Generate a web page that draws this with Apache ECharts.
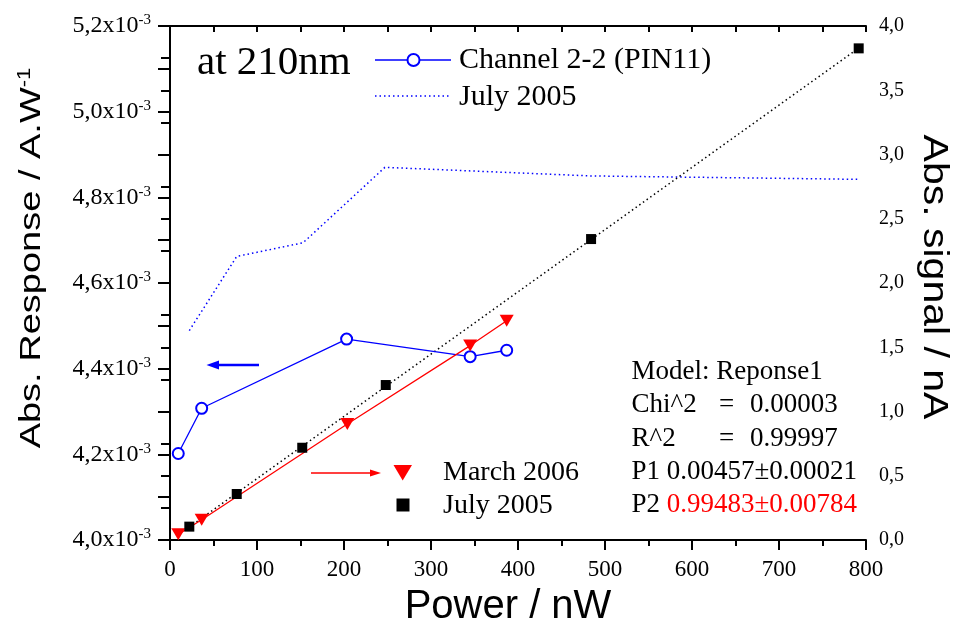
<!DOCTYPE html>
<html><head><meta charset="utf-8">
<script src="https://cdn.jsdelivr.net/npm/echarts@6/dist/echarts.min.js"></script>
<style>html,body{margin:0;padding:0;background:#fff}#c{width:956px;height:624px}</style>
</head><body><div id="c"></div>
<script>
// ---- data ----
const xTicks = [0, 100, 200, 300, 400, 500, 600, 700, 800];
const channelX = [9.5, 36.4, 203, 345, 387];
const channelY = [4.202e-3, 4.3075e-3, 4.469e-3, 4.428e-3, 4.443e-3];
const julyRespX = [22.2, 76.7, 153, 247, 483, 791];
const julyRespY = [4.489e-3, 4.662e-3, 4.694e-3, 4.870e-3, 4.850e-3, 4.842e-3];
const marchX = [9.5, 36.4, 203.8, 345, 387];
const marchY = [0.044, 0.158, 0.903, 1.513, 1.706];
const julySigX = [22.2, 76.7, 152, 248, 484, 791.6];
const julySigY = [0.104, 0.358, 0.718, 1.206, 2.342, 3.826];
const fitX = [22, 792];
const fitY = [0.10, 3.83];
const statsLines = ['Model: Reponse1', 'Chi^2', 'R^2', 'P1 0.00457\u00b10.00021', 'P2 '];
const statsValues = ['0.00003', '0.99997'];
const p2Value = '0.99483\u00b10.00784';

const zip = (a, b) => a.map((v, i) => [v, b[i]]);
const SERIF = 'Liberation Serif';
const SANS = 'Liberation Sans';
const BLUE = '#0000ff', RED = '#ff0000';

const chart = echarts.init(document.getElementById('c'), null, {renderer: 'canvas'});

const tx = (x, y, text, size, extra) => ({
  type: 'text', x: x, y: y, z: 100,
  style: Object.assign({text: text, font: size + 'px "' + SERIF + '"', fill: '#000',
    textAlign: 'left', textVerticalAlign: 'middle'}, extra || {})
});

const option = {
  animation: false,
  backgroundColor: '#fff',
  grid: {left: 170, right: 90, top: 26, bottom: 84, containLabel: false},
  xAxis: [{
    type: 'value', position: 'bottom', min: 0, max: 800, interval: 100,
    axisLine: {show: true, lineStyle: {color: '#000', width: 2}},
    axisTick: {show: true, inside: false, length: 10, lineStyle: {color: '#000', width: 2}},
    minorTick: {show: true, splitNumber: 2, length: 6, lineStyle: {color: '#000', width: 2}},
    splitLine: {show: false},
    axisLabel: {fontFamily: SERIF, fontSize: 23, color: '#000', margin: 18,
      formatter: v => xTicks.indexOf(v) >= 0 ? String(v) : ''}
  }, {
    type: 'value', position: 'top', min: 0, max: 800, interval: 100,
    axisLine: {show: true, lineStyle: {color: '#000', width: 2}},
    axisTick: {show: true, inside: true, length: 6, lineStyle: {color: '#000', width: 2}},
    minorTick: {show: true, splitNumber: 2, length: 6, lineStyle: {color: '#000', width: 2}},
    splitLine: {show: false}, axisLabel: {show: false}
  }],
  yAxis: [{
    type: 'value', position: 'left', min: 0.0040, max: 0.0052, interval: 0.0002,
    axisLine: {show: true, lineStyle: {color: '#000', width: 2}},
    axisTick: {show: true, inside: false, length: 12, lineStyle: {color: '#000', width: 2}},
    minorTick: {show: true, splitNumber: 2, length: 12, lineStyle: {color: '#000', width: 2}},
    splitLine: {show: false},
    axisLabel: {margin: 19, color: '#000',
      formatter: v => '{a|' + (v * 1000).toFixed(1).replace('.', ',') + 'x10}{b|-3}',
      rich: {
        a: {fontFamily: SERIF, fontSize: 24, color: '#000'},
        b: {fontFamily: SERIF, fontSize: 15, color: '#000', verticalAlign: 'bottom', padding: [0, 0, 11, 0]}
      }}
  }, {
    type: 'value', position: 'right', min: 0, max: 4, interval: 0.5,
    axisLine: {show: true, lineStyle: {color: '#000', width: 2}},
    axisTick: {show: true, inside: true, length: 9, lineStyle: {color: '#000', width: 2}},
    minorTick: {show: true, splitNumber: 2, length: 9, lineStyle: {color: '#000', width: 2}},
    splitLine: {show: false},
    axisLabel: {fontFamily: SERIF, fontSize: 20, color: '#000', margin: 13,
      formatter: v => v.toFixed(1).replace('.', ',')}
  }],
  series: [{
    name: 'Channel 2-2 (PIN11)', type: 'line', yAxisIndex: 0,
    data: zip(channelX, channelY),
    symbol: 'circle', symbolSize: 11,
    lineStyle: {color: BLUE, width: 1.3},
    itemStyle: {color: '#fff', borderColor: BLUE, borderWidth: 2}, z: 5
  }, {
    name: 'July 2005 response', type: 'line', yAxisIndex: 0,
    data: zip(julyRespX, julyRespY), symbol: 'none',
    lineStyle: {color: BLUE, width: 1.5, type: [1.5, 3]}
  }, {
    name: 'fit', type: 'line', yAxisIndex: 1,
    data: zip(fitX, fitY), symbol: 'none',
    lineStyle: {color: '#000', width: 1.5, type: [1.5, 3]}
  }, {
    name: 'March 2006', type: 'line', yAxisIndex: 1,
    data: zip(marchX, marchY),
    symbol: 'triangle', symbolRotate: 180, symbolSize: [14, 12],
    lineStyle: {color: RED, width: 1.3},
    itemStyle: {color: RED}, z: 6
  }, {
    name: 'July 2005', type: 'scatter', yAxisIndex: 1,
    data: zip(julySigX, julySigY),
    symbol: 'rect', symbolSize: 10,
    itemStyle: {color: '#000', opacity: 1}, z: 7
  }],
  graphic: [
    tx(197, 63, 'at 210nm', 41),
    // legend 1
    {type: 'line', shape: {x1: 375, y1: 60, x2: 451, y2: 60}, style: {stroke: BLUE, lineWidth: 1.3}, z: 100},
    {type: 'circle', shape: {cx: 413.5, cy: 60, r: 6}, style: {fill: '#fff', stroke: BLUE, lineWidth: 2}, z: 101},
    tx(459, 60, 'Channel 2-2 (PIN11)', 30),
    {type: 'line', shape: {x1: 375, y1: 96, x2: 451, y2: 96}, style: {stroke: BLUE, lineWidth: 1.5, lineDash: [1.5, 3]}, z: 100},
    tx(459, 97, 'July 2005', 30),
    // blue arrow (points to left axis)
    {type: 'line', shape: {x1: 259, y1: 365, x2: 215, y2: 365}, style: {stroke: BLUE, lineWidth: 2.5}, z: 100},
    {type: 'polygon', shape: {points: [[206.5, 365], [219, 360.5], [219, 369.5]]}, style: {fill: BLUE}, z: 100},
    // red arrow (points to right axis)
    {type: 'line', shape: {x1: 311, y1: 473, x2: 372, y2: 473}, style: {stroke: RED, lineWidth: 1.5}, z: 100},
    {type: 'polygon', shape: {points: [[381, 473], [370, 469.5], [370, 476.5]]}, style: {fill: RED}, z: 100},
    // legend 2
    {type: 'polygon', shape: {points: [[393.5, 465], [412, 465], [402.7, 480.5]]}, style: {fill: RED}, z: 100},
    tx(443, 473, 'March 2006', 28),
    {type: 'rect', shape: {x: 396.5, y: 498.5, width: 13, height: 13}, style: {fill: '#000'}, z: 100},
    tx(443, 506, 'July 2005', 28),
    // stats
    tx(631.5, 372, statsLines[0], 27),
    tx(631.5, 405, statsLines[1], 27),
    tx(719, 405, '=', 27),
    tx(750, 405, statsValues[0], 27),
    tx(631.5, 438.5, statsLines[2], 27),
    tx(719, 438.5, '=', 27),
    tx(750, 438.5, statsValues[1], 27),
    tx(631.5, 472, statsLines[3], 27),
    {type: 'text', x: 631.5, y: 505, z: 100, style: {
      text: '{k|' + statsLines[4] + '}{r|' + p2Value + '}', textVerticalAlign: 'middle', textAlign: 'left',
      rich: {k: {fontFamily: SERIF, fontSize: 27, fill: '#000', color: '#000'},
             r: {fontFamily: SERIF, fontSize: 27, fill: RED, color: RED}}}},
    // axis titles
    {type: 'text', x: 508, y: 607, z: 100, style: {
      text: 'Power / nW', font: '40px "' + SANS + '"', fill: '#000', textAlign: 'center', textVerticalAlign: 'middle'}},
    {type: 'text', x: 32, y: 258, rotation: Math.PI / 2, scaleY: 0.8, z: 100, style: {
      text: '{m|Abs. Response / A.W}{s|-1}', textAlign: 'center', textVerticalAlign: 'middle',
      rich: {m: {fontFamily: SANS, fontSize: 38, fill: '#000', color: '#000'},
             s: {fontFamily: SANS, fontSize: 22, fill: '#000', color: '#000', verticalAlign: 'bottom', padding: [0, 0, 18, 0]}}}},
    {type: 'text', x: 934, y: 277, rotation: -Math.PI / 2, scaleY: 0.85, z: 100, style: {
      text: 'Abs. signal / nA', font: '41px "' + SANS + '"', fill: '#000', textAlign: 'center', textVerticalAlign: 'middle'}}
  ]
};
chart.setOption(option);
</script>
</body></html>
